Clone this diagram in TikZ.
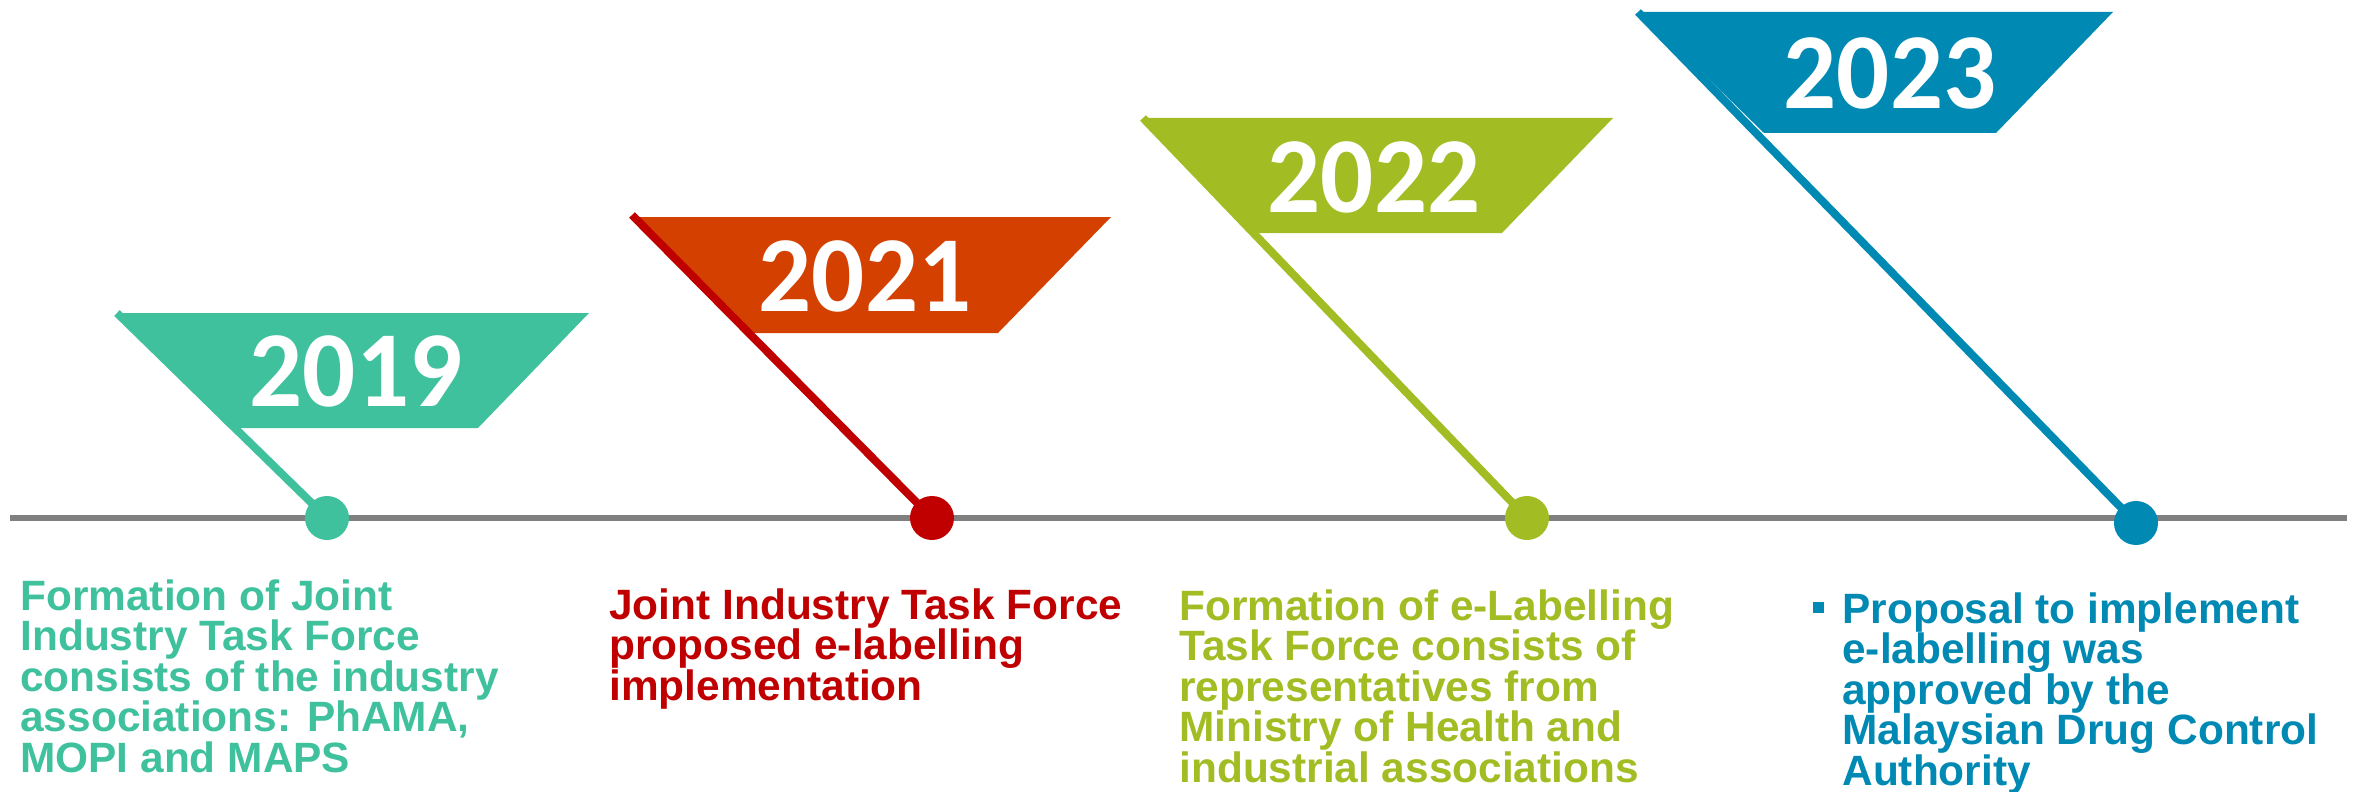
\documentclass[tikz,border=0pt]{standalone}
\usepackage{fontspec}
\setmainfont{Liberation Sans}
\newfontfamily\yearfont[FakeStretch=0.97]{Carlito}
\definecolor{teal19}{RGB}{64,193,157}
\definecolor{flag21}{RGB}{211,64,0}
\definecolor{red21}{RGB}{192,0,0}
\definecolor{lime22}{RGB}{162,189,36}
\definecolor{blue23}{RGB}{0,137,179}
\definecolor{axisgray}{RGB}{128,128,128}
\begin{document}
\begin{tikzpicture}[x=0.5pt,y=-0.5pt,
  yearlabel/.style={text=white,font=\yearfont\bfseries\fontsize{54}{60}\selectfont,inner sep=0pt},
  % anchored at the baseline of the last line
  note/.style={anchor=base west,align=left,inner sep=0pt,font=\bfseries\fontsize{21.2}{20.25}\selectfont},
  dot/.style={circle,inner sep=0pt,minimum size=22pt},
  pole/.style={line width=4pt},
  axis/.style={draw=axisgray,line width=2.75pt}]
\useasboundingbox (0,0) rectangle (2357,792);

% timeline axis
\coordinate (axisL) at (10,518);
\coordinate (axisR) at (2347,518);
\draw[axis] (axisL) -- (axisR);

% flag banners
\fill[teal19] (117,313) -- (589,313) -- (478,428) -- (229,428) -- cycle;
\fill[flag21] (636,217) -- (1111,217) -- (998,333) -- (752,333) -- cycle;
\fill[lime22] (1143,118) -- (1613,118) -- (1502,233) -- (1253,233) -- cycle;
\fill[blue23] (1640,12) -- (2113,12) -- (1996,133) -- (1764,133) -- cycle;

% milestone dots
\node[dot,fill=teal19] (m19) at (327,518) {};
\node[dot,fill=red21] (m21) at (932,518) {};
\node[dot,fill=lime22] (m22) at (1527,518) {};
\node[dot,fill=blue23] (m23) at (2136,523) {};

% flag poles
\coordinate (p19) at (117,313);
\coordinate (p21) at (632,215);
\coordinate (p22) at (1143,118);
\coordinate (p23) at (1638,12);
\draw[pole,teal19] (p19) -- (m19.center);
\draw[pole,red21] (p21) -- (m21.center);
\draw[pole,lime22] (p22) -- (m22.center);
\draw[pole,blue23] (p23) -- (m23.center);

% years
\node[yearlabel] (y19) at (356,371) {2019};
\node[yearlabel] (y21) at (865,276) {2021};
\node[yearlabel] (y22) at (1374,177) {2022};
\node[yearlabel] (y23) at (1890,73) {2023};

% descriptions
\node[note,text=teal19] (t19) at (20,772) {Formation of Joint\\Industry Task Force\\consists of the industry\\associations: PhAMA,\\MOPI and MAPS};
\node[note,text=red21] (t21) at (609,700) {Joint Industry Task Force\\proposed e-labelling\\implementation};
\node[note,text=lime22] (t22) at (1179,782) {Formation of e-Labelling\\Task Force consists of\\representatives from\\Ministry of Health and\\industrial associations};
\node[fill=blue23,inner sep=0pt,minimum size=5.5pt,anchor=north west] (b23) at (1813,602) {};
\node[note,text=blue23] (t23) at (1842,785) {Proposal to implement\\e-labelling was\\approved by the\\Malaysian Drug Control\\Authority};
\end{tikzpicture}
\end{document}
